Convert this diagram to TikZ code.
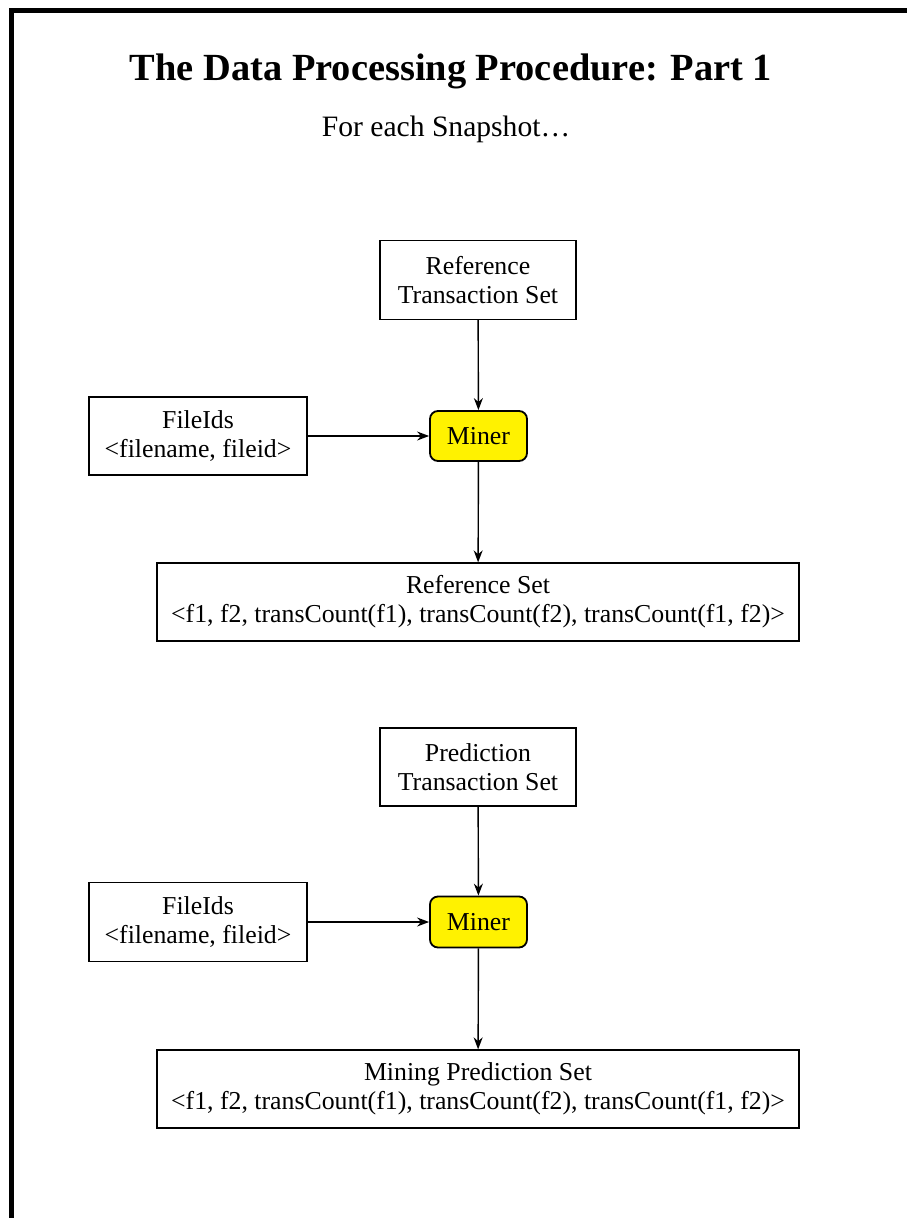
\documentclass[tikz,border=0pt]{standalone}
\usepackage{fontspec}
\setmainfont{Liberation Serif}
\usetikzlibrary{arrows.meta, positioning}
\tikzset{
  box/.style   = {draw=black, line width=1.3pt, align=center,
                  font=\fontsize{25.8}{29}\selectfont, inner sep=0pt, fill=white},
  miner/.style = {box, line width=1.8pt, fill=yellow, rounded corners=8pt},
  flow/.style  = {-{Stealth[length=12pt, width=9pt]}, line width=1.4pt},
}
\begin{document}
\begin{tikzpicture}[x=1pt, y=-1pt]
  \useasboundingbox (0,0) rectangle (907,1218);
  \draw[line width=5pt] (11,1218) -- (11,10.5) -- (907,10.5);

  \node[font=\bfseries\fontsize{38.4}{44}\selectfont] (title) at (451,71)
    {The Data Processing Procedure: Part 1};
  \node[font=\fontsize{29.6}{34}\selectfont] (sub) at (446,129) {For each Snapshot…};

  % first pass: reference transactions
  \node[box, minimum width=196pt, minimum height=79pt] (reftrans) at (478,280)
    {Reference\\Transaction Set};
  \node[box, minimum width=218pt, minimum height=78pt] (fileidsA) at (198,436)
    {FileIds\\<filename, fileid>};
  \node[miner, minimum width=97pt, minimum height=50pt] (minerA) at (478.5,436) {Miner};
  \node[box, minimum width=642pt, minimum height=78pt] (refset) at (478,602)
    {Reference Set\\<f1, f2, transCount(f1), transCount(f2), transCount(f1, f2)>};

  \draw[flow] (reftrans) -- (minerA);
  \draw[flow] (fileidsA) -- (minerA);
  \draw[flow] (minerA) -- (refset);

  % second pass: prediction transactions
  \node[box, minimum width=196pt, minimum height=78pt] (predtrans) at (478,767)
    {Prediction\\Transaction Set};
  \node[box, minimum width=218pt, minimum height=79pt] (fileidsB) at (198,922)
    {FileIds\\<filename, fileid>};
  \node[miner, minimum width=97pt, minimum height=51pt] (minerB) at (478.5,922) {Miner};
  \node[box, minimum width=642pt, minimum height=78pt] (predset) at (478,1089)
    {Mining Prediction Set\\<f1, f2, transCount(f1), transCount(f2), transCount(f1, f2)>};

  \draw[flow] (predtrans) -- (minerB);
  \draw[flow] (fileidsB) -- (minerB);
  \draw[flow] (minerB) -- (predset);
\end{tikzpicture}
\end{document}
